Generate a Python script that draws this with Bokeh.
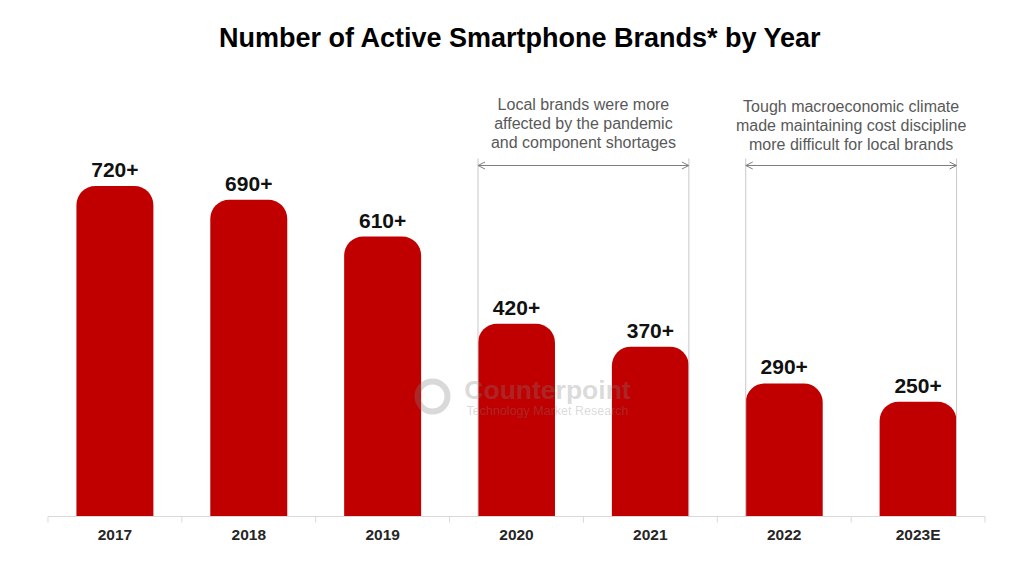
from bokeh.plotting import figure
from bokeh.models import FactorRange, Range1d, Arrow, OpenHead, ColumnDataSource
from bokeh.core.properties import value
from bokeh.embed import file_html
from bokeh.resources import INLINE

# ---- data ----
years = ["2017", "2018", "2019", "2020", "2021", "2022", "2023E"]
brands = [720, 690, 610, 420, 370, 290, 250]
labels = ["720+", "690+", "610+", "420+", "370+", "290+", "250+"]
title = "Number of Active Smartphone Brands* by Year"
note1 = ["Local brands were more", "affected by the pandemic", "and component shortages"]
note2 = ["Tough macroeconomic climate", "made maintaining cost discipline", "more difficult for local brands"]

# ---- layout constants ----
W, H = 1024, 576
PPU_Y = 0.459          # pixels per brand
PPU_X = 133.86         # pixels per category
BASE_PX = 516          # baseline pixel row
BAR_W = 0.575
FONT = "Liberation Sans"
RED = "#c00000"

def ydat(py):
    return (BASE_PX - py) / PPU_Y

p = figure(width=W, height=H, output_backend="svg", toolbar_location=None,
           x_range=FactorRange(*years, range_padding=0.28, range_padding_units="absolute"),
           y_range=Range1d(ydat(H), ydat(0)),
           x_axis_location=None, y_axis_location=None,
           min_border_left=10, min_border_right=2, min_border_top=0, min_border_bottom=0)
p.outline_line_color = None
p.grid.visible = False
p.background_fill_color = "white"
p.border_fill_color = "white"

src = ColumnDataSource(dict(x=years, top=brands, lab=labels))

# bars
p.vbar(x="x", top="top", bottom=0, width=BAR_W, source=src, fill_color=RED,
       line_color=None, border_radius=(19, 19, 0, 0))

# watermark (drawn over bars)
p.text(x=[3.5], y=[ydat(389)], text=["Counterpoint"], text_font=value(FONT),
       text_font_style="bold", text_font_size="26.5px", text_color="#808080", text_alpha=0.3,
       text_align="center", text_baseline="middle", x_offset=31)
p.text(x=[3.5], y=[ydat(410)], text=["Technology Market Research"], text_font=value(FONT),
       text_font_size="12.5px", text_color="#808080", text_alpha=0.3,
       text_align="center", text_baseline="middle", x_offset=31)
p.scatter(x=[3.5 - 84 / PPU_X], y=[ydat(396)], size=30, marker="circle", fill_color=None,
          line_color="#808080", line_alpha=0.3, line_width=6)

# value labels
p.text(x="x", y="top", text="lab", source=src, text_font=value(FONT), text_font_style="bold",
       text_font_size="21px", text_color="#111111", text_align="center",
       text_baseline="alphabetic", y_offset=-16)

# baseline axis
n = len(years)
p.segment(x0=[0], y0=[0], x1=[n], y1=[0], line_color="#d9d9d9", line_width=1)
p.segment(x0=list(range(n + 1)), y0=[0] * (n + 1), x1=list(range(n + 1)),
          y1=[ydat(BASE_PX + 6)] * (n + 1), line_color="#d9d9d9", line_width=1)
p.text(x=years, y=[0] * n, text=years, text_font=value(FONT), text_font_style="bold",
       text_font_size="15.5px", text_color="#262626", text_align="center",
       text_baseline="alphabetic", y_offset=18)

# title
p.text(x=[3.5], y=[ydat(37)], text=[title], text_font=value(FONT), text_font_style="bold",
       text_font_size="27px", text_color="#000000", text_align="center",
       text_baseline="alphabetic", x_offset=4)

# annotations
def bracket(i0, i1, lines, base_py):
    xl = i0 + 0.5 - BAR_W / 2
    xr = i1 + 0.5 + BAR_W / 2
    p.segment(x0=[xl, xr], y0=[ydat(158)] * 2, x1=[xl, xr], y1=[0, 0],
              line_color="#c8c8c8", line_width=1)
    p.add_layout(Arrow(x_start=xl, y_start=ydat(165), x_end=xr, y_end=ydat(165),
                       line_color="#7f7f7f", line_width=1.2,
                       start=OpenHead(size=7, line_color="#7f7f7f", line_width=1),
                       end=OpenHead(size=7, line_color="#7f7f7f", line_width=1)))
    xc = (xl + xr) / 2
    for k, t in enumerate(lines):
        p.text(x=[xc], y=[ydat(base_py + 19 * k)], text=[t], text_font=value(FONT),
               text_font_size="16px", text_color="#595959", text_align="center",
               text_baseline="alphabetic")

bracket(3, 4, note1, 104)
bracket(5, 6, note2, 106)

open("out.html", "w").write(file_html(p, INLINE))
